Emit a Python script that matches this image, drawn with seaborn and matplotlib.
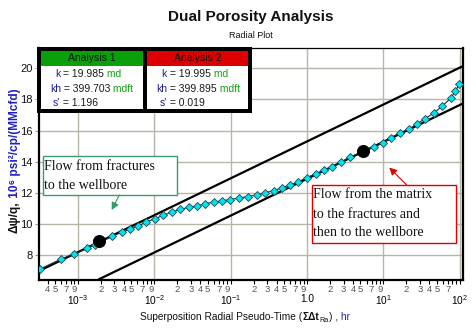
import numpy as np
import pandas as pd
import matplotlib
matplotlib.use('Agg')
import matplotlib.pyplot as plt
import seaborn as sns
from matplotlib.patches import Rectangle, FancyArrowPatch
from matplotlib.ticker import FixedLocator, FixedFormatter
from matplotlib.text import Annotation
from matplotlib.transforms import ScaledTranslation

# ---------------- data ----------------
time_hr = [3.18e-4, 5.99e-4, 8.95e-4, 1.33e-3, 1.68e-3, 2.79e-3, 3.77e-3, 4.75e-3, 6.09e-3, 7.89e-3,
           1.02e-2, 1.31e-2, 1.68e-2, 2.18e-2, 2.82e-2, 3.66e-2, 4.67e-2, 5.98e-2, 7.71e-2, 9.91e-2,
           0.130, 0.169, 0.218, 0.283, 0.365, 0.464, 0.601, 0.766, 1.00, 1.30,
           1.67, 2.14, 2.79, 3.60, 7.48, 9.91, 12.6, 16.4, 21.3, 27.1,
           34.5, 45.9, 58.5, 76.2, 87.5, 98.4]
dpsi_q = [7.10, 7.74, 8.08, 8.43, 8.67, 9.20, 9.47, 9.65, 9.86, 10.13,
          10.33, 10.56, 10.75, 10.93, 11.07, 11.16, 11.31, 11.40, 11.49, 11.57,
          11.67, 11.76, 11.86, 12.00, 12.14, 12.32, 12.50, 12.70, 12.98, 13.23,
          13.45, 13.68, 13.96, 14.28, 14.95, 15.19, 15.54, 15.85, 16.07, 16.41,
          16.74, 17.13, 17.56, 18.08, 18.53, 18.99]

anchor_x = [1.91e-3, 5.37]
anchor_y = [8.93, 14.66]

line1_x = [3.09e-4, 110.0]
line1_y = [6.98, 20.14]
line2_x = [1.87e-3, 110.0]
line2_y = [6.44, 17.74]

y_ticks = [8, 10, 12, 14, 16, 18, 20]
x_major = [1e-3, 1e-2, 1e-1, 1.0, 1e1, 1e2]
x_major_labels = [r'$10^{-3}$', r'$10^{-2}$', r'$10^{-1}$', '1.0', r'$10^{1}$', r'$10^{2}$']

analyses = ['Analysis 1', 'Analysis 2']
k_vals = ['19.985', '19.995']
kh_vals = ['399.703', '399.895']
s_vals = ['1.196', '0.019']

# ---------------- style ----------------
sns.set_theme(style='white')
plt.rcParams['font.family'] = ['Liberation Sans', 'DejaVu Sans']
plt.rcParams['mathtext.fontset'] = 'custom'
plt.rcParams['mathtext.rm'] = 'Liberation Sans'
plt.rcParams['mathtext.it'] = 'Liberation Sans:italic'
plt.rcParams['mathtext.bf'] = 'Liberation Sans:bold'

W, H = 477, 329
fig = plt.figure(figsize=(W / 100, H / 100), dpi=100)
fig.patch.set_facecolor('white')
L, R, T, B = 39, 463, 48, 280
ax = fig.add_axes([L / W, 1 - B / H, (R - L) / W, (B - T) / H])


def fx(px):
    return px / W


def fy(py):
    return 1 - py / H


def chain(text, prev, xy=(1, 0), offset=(0, 0), zorder=8, **kw):
    a = Annotation(text, xy=xy, xycoords=prev, xytext=offset, textcoords='offset points',
                   annotation_clip=False, **kw)
    a.set_zorder(zorder)
    fig.add_artist(a)
    return a


df = pd.DataFrame({'t': time_hr, 'v': dpsi_q})

sns.lineplot(x=line1_x, y=line1_y, ax=ax, color='black', lw=1.6, zorder=3)
sns.lineplot(x=line2_x, y=line2_y, ax=ax, color='black', lw=1.6, zorder=3)
sns.lineplot(data=df, x='t', y='v', ax=ax, color='#16303c', lw=0.8, marker='D',
             markersize=4.2, markerfacecolor='#00e4ec', markeredgecolor='#1a4656',
             markeredgewidth=0.6, zorder=4)
sns.scatterplot(x=anchor_x, y=anchor_y, ax=ax, s=75, color='black', edgecolor='black', zorder=5)

ax.set_xscale('log')
ax.set_xlim(3.09e-4, 110)
ax.set_ylim(6.4, 21.3)
ax.set_xlabel('')
ax.set_ylabel('')

ax.yaxis.set_major_locator(FixedLocator(y_ticks))
ax.set_yticklabels([str(v) for v in y_ticks])

ax.xaxis.set_major_locator(FixedLocator(x_major))
ax.xaxis.set_major_formatter(FixedFormatter(x_major_labels))
minor_pos, minor_lbl = [], []
for d in range(-4, 2):
    for m in range(2, 10):
        v = m * 10.0 ** d
        if 3.09e-4 <= v <= 110:
            minor_pos.append(v)
            show = m in (2, 3, 4, 5, 7, 9) and not (d == 1 and m == 9)
            minor_lbl.append(str(m) if show else '')
ax.xaxis.set_minor_locator(FixedLocator(minor_pos))
ax.xaxis.set_minor_formatter(FixedFormatter(minor_lbl))

ax.grid(True, which='major', color='#b8b4a8', lw=1.0)
ax.grid(False, which='minor')
ax.set_axisbelow(True)

ax.tick_params(axis='x', which='minor', bottom=True, length=2.6, width=0.8, color='black',
               labelsize=6.8, pad=1.0, labelcolor='#555555')
ax.tick_params(axis='x', which='major', bottom=True, length=2.6, width=0.8, color='black',
               labelsize=7.3, pad=15.3, labelcolor='black')
ax.tick_params(axis='y', which='major', left=True, length=3, width=0.8, color='#999999',
               labelsize=8, pad=1.5, labelcolor='#111111')
for idx, tk in enumerate(ax.xaxis.get_major_ticks()):
    tk.label1.set_verticalalignment('baseline')
    if x_major_labels[idx] == '1.0':
        tk.label1.set_transform(tk.label1.get_transform() +
                                ScaledTranslation(0, 2.5 / 100, fig.dpi_scale_trans))

for side in ['left', 'bottom', 'right']:
    ax.spines[side].set_color('black')
    ax.spines[side].set_linewidth(1.6)
ax.spines['top'].set_color('black')
ax.spines['top'].set_linewidth(0.9)

# ---------------- titles ----------------
fig.text(fx(251), fy(17), 'Dual Porosity Analysis', ha='center', va='center',
         fontsize=11, fontweight='bold', color='#111111')
fig.text(fx(251), fy(36), 'Radial Plot', ha='center', va='center', fontsize=6.5, color='#111111')

# y label (two colours)
ylab1 = fig.text(fx(15), fy(233), 'Δψ/q,', rotation=90, ha='center', va='bottom',
                 fontsize=8.6, fontweight='bold', color='#111111')
chain(' 10⁶ psi²/cp/(MMcfd)', ylab1, xy=(0.5, 1.0), rotation=90, ha='center', va='bottom',
      fontsize=8.6, fontweight='bold', color='#2020c0', family=['Liberation Sans', 'DejaVu Sans'])

# x label (mixed)
xl1 = fig.text(fx(140), fy(322), 'Superposition Radial Pseudo-Time (', ha='left', va='bottom',
               fontsize=7.3, color='#111111')
xl2 = chain('ΣΔt', xl1, xy=(1, 0), ha='left', va='bottom', fontsize=7.3,
            fontweight='bold', color='#111111')
xl3 = chain('Ra', xl2, xy=(1, 0), offset=(0.3, -1.2), ha='left', va='bottom', fontsize=5.2,
            color='#111111')
xl4 = chain(') ,', (xl3, xl2), xy=(1, 0), offset=(0.3, 0), ha='left', va='bottom', fontsize=7.3,
            color='#111111')
chain(' hr', xl4, xy=(1, 0), ha='left', va='bottom', fontsize=7.3, color='#2020c0')


# ---------------- info box ----------------
def frect(x0, y0, x1, y1, **kw):
    r = Rectangle((fx(x0), fy(y1)), (x1 - x0) / W, (y1 - y0) / H, transform=fig.transFigure, **kw)
    fig.add_artist(r)
    return r


frect(36.7, 47.3, 251.7, 112.7, facecolor='black', edgecolor='none', zorder=6)
panels = [(41, 143.3), (147.3, 248.3)]
hdr_colors = ['#0aa00a', '#dd0000']
starts = [(55, 50, 52.7), (161.7, 156, 159.3)]
navy = '#1c1c8c'
green = '#12a012'
for i, (x0, x1) in enumerate(panels):
    frect(x0, 50.7, x1, 66, facecolor=hdr_colors[i], edgecolor='none', zorder=7)
    frect(x0, 66, x1, 109.3, facecolor='white', edgecolor='none', zorder=7)
    fig.text(fx((x0 + x1) / 2), fy(58.3), analyses[i], ha='center', va='center',
             fontsize=7.5, color='#111111', zorder=8)
    rows = [('k', k_vals[i], ' md', 74), ('kh', kh_vals[i], ' mdft', 89), ("s'", s_vals[i], '', 103.3)]
    for j, (lab, val, unit, yy) in enumerate(rows):
        t1 = fig.text(fx(starts[i][j]), fy(yy), lab, ha='left', va='center', fontsize=7.5,
                      color=navy, zorder=8)
        t2 = chain(' = ' + val, t1, xy=(1, 0), ha='left', va='bottom',
                   fontsize=7.5, color='#1a1a1a')
        if unit:
            chain(unit, t2, xy=(1, 0), ha='left', va='bottom', fontsize=7.5, color=green)

# ---------------- annotation boxes ----------------
serif = ['Liberation Serif', 'DejaVu Serif']
frect(42.7, 156, 177.3, 195, facecolor='white', edgecolor='#3a9a72', lw=1.0, zorder=6)
for txt, yy in [('Flow from fractures', 166), ('to the wellbore', 185)]:
    fig.text(fx(44), fy(yy), txt, ha='left', va='center', fontsize=10, family=serif,
             color='#111111', zorder=8)
frect(311.7, 185, 456, 243.3, facecolor='white', edgecolor='#e00000', lw=1.0, zorder=6)
for txt, yy in [('Flow from the matrix', 195), ('to the fractures and', 214),
                ('then to the wellbore', 232.7)]:
    fig.text(fx(313), fy(yy), txt, ha='left', va='center', fontsize=10, family=serif,
             color='#111111', zorder=8)

fig.add_artist(FancyArrowPatch((fx(119.3), fy(195)), (fx(111.7), fy(210)),
                               transform=fig.transFigure, arrowstyle='-|>', mutation_scale=11,
                               color='#2e9a6a', lw=0.8, shrinkA=0, shrinkB=0, zorder=8))
fig.add_artist(FancyArrowPatch((fx(406.7), fy(185)), (fx(389.3), fy(167.5)),
                               transform=fig.transFigure, arrowstyle='-|>', mutation_scale=11,
                               color='#e00000', lw=0.8, shrinkA=0, shrinkB=0, zorder=8))

fig.savefig('out.png', dpi=100, facecolor='white')
